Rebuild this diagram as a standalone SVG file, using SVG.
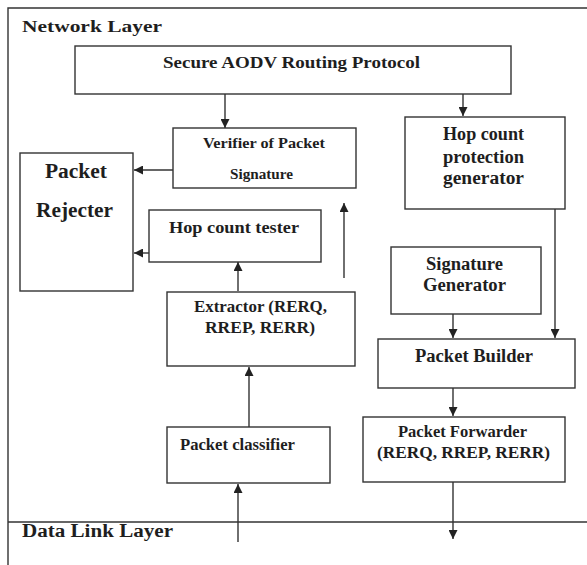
<svg xmlns="http://www.w3.org/2000/svg" width="587" height="565" viewBox="0 0 587 565">
<style>
.box{fill:#fff;stroke:#333;stroke-width:1.4}
.ln{fill:none;stroke:#333;stroke-width:1.4}
.t{font-family:"Liberation Serif","Times New Roman",serif;font-weight:bold;fill:#1e1e1e}
.c{stroke:#333;stroke-width:1.4;fill:none}
</style>
<defs>
<marker id="ah" viewBox="0 0 10 10" refX="10" refY="5" markerWidth="10" markerHeight="9" markerUnits="userSpaceOnUse" orient="auto">
<path d="M0,0 L10,5 L0,10 Z" fill="#222"/>
</marker>
</defs>
<rect width="587" height="565" fill="#fff"/>
<g id="frame">
<path class="ln" d="M587,8 H8 V565"/>
<path class="ln" d="M8,522 H587"/>
<text class="t" x="22" y="32" font-size="17" textLength="140" lengthAdjust="spacingAndGlyphs">Network Layer</text>
<text class="t" x="22" y="537" font-size="18" textLength="151" lengthAdjust="spacingAndGlyphs">Data Link Layer</text>
</g>
<g id="secure-aodv">
<rect class="box" x="75" y="46" width="436" height="48"/>
<text class="t" x="163" y="68" font-size="17" textLength="257" lengthAdjust="spacingAndGlyphs">Secure AODV Routing Protocol</text>
</g>
<g id="verifier">
<rect class="box" x="173" y="128" width="183" height="60"/>
<text class="t" x="203" y="148" font-size="15" textLength="122" lengthAdjust="spacingAndGlyphs">Verifier of Packet</text>
<text class="t" x="230" y="179" font-size="15" textLength="63" lengthAdjust="spacingAndGlyphs">Signature</text>
</g>
<g id="hop-protection">
<rect class="box" x="405" y="117" width="160" height="92"/>
<text class="t" x="443" y="140" font-size="18" textLength="81" lengthAdjust="spacingAndGlyphs">Hop count</text>
<text class="t" x="443" y="163" font-size="18" textLength="81" lengthAdjust="spacingAndGlyphs">protection</text>
<text class="t" x="443" y="184" font-size="18" textLength="81" lengthAdjust="spacingAndGlyphs">generator</text>
</g>
<g id="rejecter">
<rect class="box" x="20" y="153" width="113" height="138"/>
<text class="t" x="45" y="178" font-size="20" textLength="62" lengthAdjust="spacingAndGlyphs">Packet</text>
<text class="t" x="36" y="217" font-size="20" textLength="77" lengthAdjust="spacingAndGlyphs">Rejecter</text>
</g>
<g id="hop-tester">
<rect class="box" x="149" y="210" width="172" height="52"/>
<text class="t" x="169" y="233" font-size="17" textLength="130" lengthAdjust="spacingAndGlyphs">Hop count tester</text>
</g>
<g id="extractor">
<rect class="box" x="167" y="292" width="188" height="74"/>
<text class="t" x="194" y="312" font-size="16" textLength="133" lengthAdjust="spacingAndGlyphs">Extractor (RERQ,</text>
<text class="t" x="205" y="333" font-size="16" textLength="110" lengthAdjust="spacingAndGlyphs">RREP, RERR)</text>
</g>
<g id="classifier">
<rect class="box" x="167" y="427" width="163" height="56"/>
<text class="t" x="180" y="450" font-size="16" textLength="115" lengthAdjust="spacingAndGlyphs">Packet classifier</text>
</g>
<g id="sig-gen">
<rect class="box" x="391" y="247" width="150" height="67"/>
<text class="t" x="426" y="270" font-size="18" textLength="77" lengthAdjust="spacingAndGlyphs">Signature</text>
<text class="t" x="423" y="291" font-size="18" textLength="83" lengthAdjust="spacingAndGlyphs">Generator</text>
</g>
<g id="builder">
<rect class="box" x="378" y="339" width="197" height="49"/>
<text class="t" x="415" y="362" font-size="18" textLength="118" lengthAdjust="spacingAndGlyphs">Packet Builder</text>
</g>
<g id="forwarder">
<rect class="box" x="363" y="417" width="202" height="65"/>
<text class="t" x="398" y="437" font-size="16" textLength="129" lengthAdjust="spacingAndGlyphs">Packet Forwarder</text>
<text class="t" x="377" y="458" font-size="17" textLength="173" lengthAdjust="spacingAndGlyphs">(RERQ, RREP, RERR)</text>
</g>
<g id="connectors">
<line class="c" x1="225" y1="94" x2="225" y2="128" marker-end="url(#ah)"/>
<line class="c" x1="463" y1="94" x2="463" y2="116" marker-end="url(#ah)"/>
<line class="c" x1="173" y1="170" x2="134" y2="170" marker-end="url(#ah)"/>
<line class="c" x1="149" y1="253" x2="134" y2="253" marker-end="url(#ah)"/>
<line class="c" x1="238" y1="291" x2="238" y2="262" marker-end="url(#ah)"/>
<line class="c" x1="344" y1="278" x2="344" y2="203" marker-end="url(#ah)"/>
<line class="c" x1="249" y1="427" x2="249" y2="367" marker-end="url(#ah)"/>
<line class="c" x1="238" y1="542" x2="238" y2="484" marker-end="url(#ah)"/>
<line class="c" x1="453" y1="314" x2="453" y2="338" marker-end="url(#ah)"/>
<line class="c" x1="555" y1="209" x2="555" y2="338" marker-end="url(#ah)"/>
<line class="c" x1="453" y1="388" x2="453" y2="416" marker-end="url(#ah)"/>
<line class="c" x1="453" y1="482" x2="453" y2="539" marker-end="url(#ah)"/>
</g>
</svg>
